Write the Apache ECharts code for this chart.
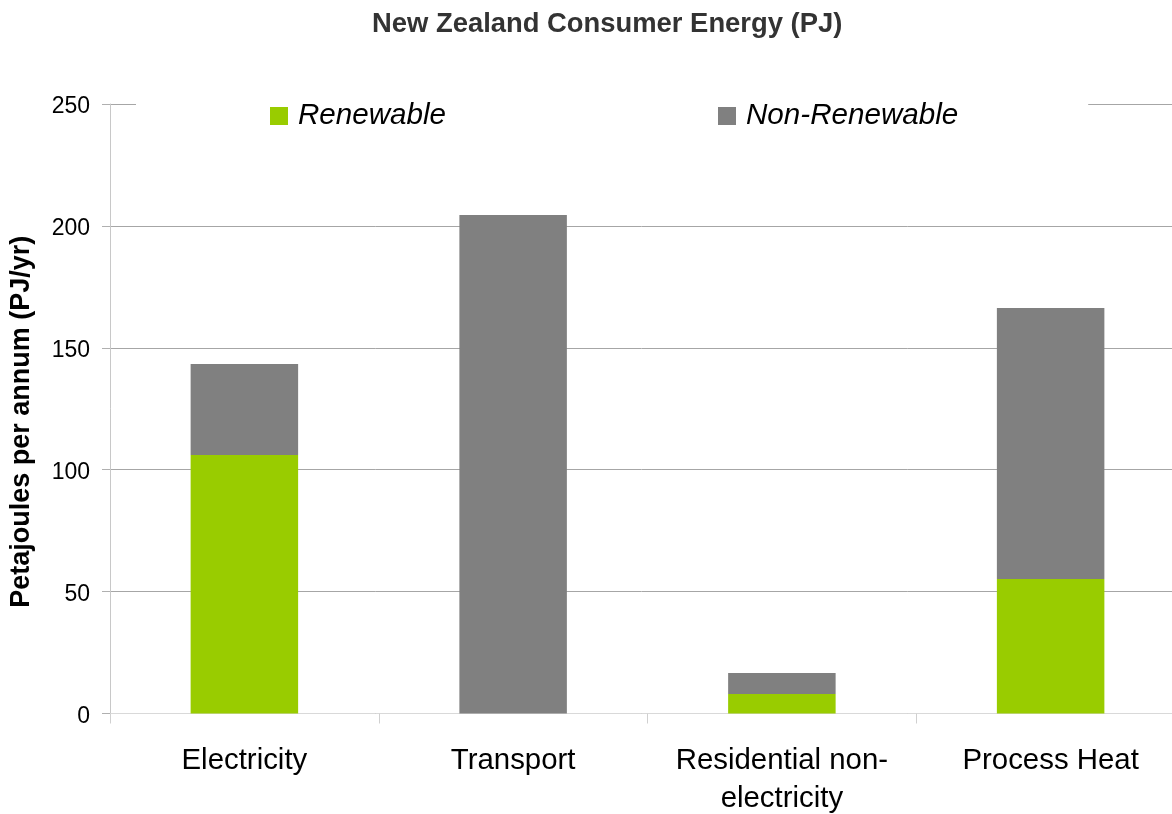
<!DOCTYPE html>
<html>
<head>
<meta charset="utf-8">
<script src="https://cdn.jsdelivr.net/npm/echarts@6/dist/echarts.min.js"></script>
<style>
html,body{margin:0;padding:0;background:#fff;}
#chart{width:1172px;height:814px;}
</style>
</head>
<body>
<div id="chart"></div>
<script>
var categories = ['Electricity', 'Transport', 'Residential non-\nelectricity', 'Process Heat'];
var renewable = [106, 0, 8, 55.2];
var nonRenewable = [37.4, 204.5, 8.6, 111.1];
var yTicks = [0, 50, 100, 150, 200, 250];

var chart = echarts.init(document.getElementById('chart'), null, {renderer: 'canvas'});
var font = 'Liberation Sans, Arial, sans-serif';
chart.setOption({
  backgroundColor: '#fff',
  animation: false,
  title: {
    text: 'New Zealand Consumer Energy (PJ)',
    left: 367, top: 6,
    textStyle: {fontFamily: font, fontSize: 27.4, fontWeight: 'bold', color: '#333333'}
  },
  legend: [{
    data: ['Renewable'],
    left: 136, top: 95,
    padding: [6, 180, 4, 134],
    backgroundColor: '#ffffff',
    itemWidth: 18, itemHeight: 18, icon: 'rect',
    textStyle: {fontFamily: font, fontSize: 29.6, fontStyle: 'italic', color: '#000', padding: [0, 0, 0, 5]}
  }, {
    data: ['Non-Renewable'],
    left: 580, top: 95,
    padding: [6, 130, 4, 138],
    backgroundColor: '#ffffff',
    itemWidth: 18, itemHeight: 18, icon: 'rect',
    textStyle: {fontFamily: font, fontSize: 29.6, fontStyle: 'italic', color: '#000', padding: [0, 0, 0, 5]}
  }],
  grid: {left: 110, top: 104, width: 1075, bottom: 100.5, containLabel: false, outerBoundsMode: 'none'},
  xAxis: {
    type: 'category',
    data: categories,
    axisLine: {lineStyle: {color: '#d9d9d9', width: 1}},
    axisTick: {show: true, alignWithLabel: false, length: 10, lineStyle: {color: '#d0d0d0'}},
    axisLabel: {fontFamily: font, fontSize: 29.4, color: '#000', margin: 28, lineHeight: 38, interval: 0}
  },
  yAxis: {
    type: 'value',
    min: 0, max: 250, interval: 50,
    name: 'Petajoules per annum (PJ/yr)',
    nameLocation: 'middle',
    nameGap: 75,
    nameTextStyle: {fontFamily: font, fontSize: 27, fontWeight: 'bold', color: '#000', padding: [0, 26, 0, 0]},
    axisLine: {show: true, lineStyle: {color: '#c8c8c8'}},
    axisTick: {show: true, length: 8, lineStyle: {color: '#b0b0b0'}},
    axisLabel: {fontFamily: font, fontSize: 23, color: '#000', margin: 20,
      formatter: function (v) { return yTicks.indexOf(v) >= 0 ? '{v|' + v + '}' : ''; },
      rich: {v: {fontFamily: font, fontSize: 23, color: '#000', padding: [6, 0, 0, 0]}}},
    splitLine: {lineStyle: {color: '#a6a6a6', width: 1}}
  },
  series: [{
    name: 'Renewable', type: 'bar', stack: 'total',
    data: renewable, barWidth: '40%',
    itemStyle: {color: '#99cc00'}
  }, {
    name: 'Non-Renewable', type: 'bar', stack: 'total',
    data: nonRenewable, barWidth: '40%',
    itemStyle: {color: '#808080'}
  }]
});
</script>
</body>
</html>
